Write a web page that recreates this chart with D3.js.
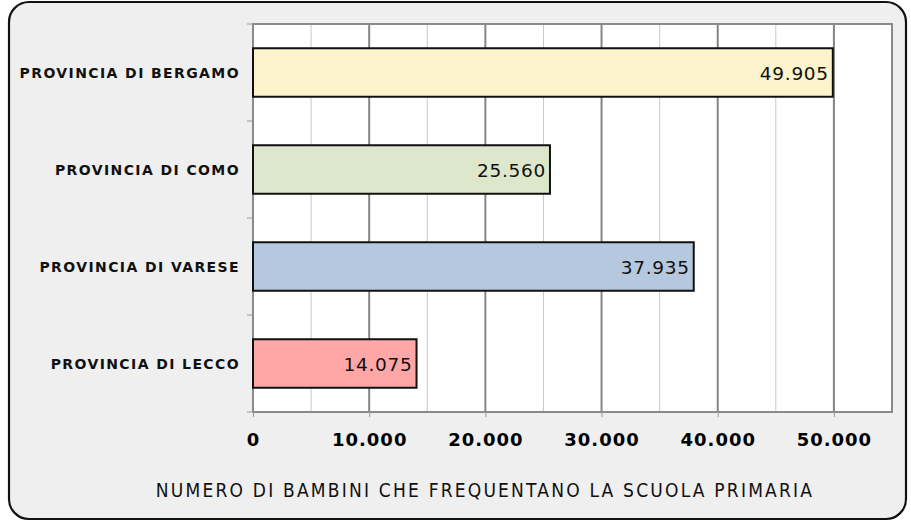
<!DOCTYPE html>
<html><head><meta charset="utf-8">
<script src="https://cdn.jsdelivr.net/npm/d3@7"></script>
<style>body{margin:0;background:#fff;}svg{display:block;}</style>
</head><body>
<svg id="c" width="911" height="526"></svg>
<script>
const categories = ["PROVINCIA DI BERGAMO","PROVINCIA DI COMO","PROVINCIA DI VARESE","PROVINCIA DI LECCO"];
const values = [49905, 25560, 37935, 14075];
const colors = ["#fdf3cc","#dde7cc","#b6c8de","#ffa6a6"];
const majorTicks = [0,10000,20000,30000,40000,50000];
const minorTicks = [5000,15000,25000,35000,45000];
const axisTitle = "NUMERO DI BAMBINI CHE FREQUENTANO LA SCUOLA PRIMARIA";

const fmt = d => d3.format(",")(d).replace(/,/g,".");
const svg = d3.select("#c");
const L=253,R=892,T=24,B=412;

svg.append("rect").attr("x",9).attr("y",2).attr("width",897).attr("height",517)
  .attr("rx",20).attr("fill","#efefef").attr("stroke","#111").attr("stroke-width",2.2);

const x = d3.scaleLinear().domain([0,55000]).range([L,R]);
const y = d3.scaleBand().domain(categories).range([T,B]).paddingInner(0.5).paddingOuter(0.25);

svg.append("rect").attr("x",L).attr("y",T).attr("width",R-L).attr("height",B-T).attr("fill","#fff");

svg.append("g").selectAll("line").data(minorTicks).join("line")
  .attr("x1",d=>x(d)).attr("x2",d=>x(d)).attr("y1",T).attr("y2",B)
  .attr("stroke","#c8c8c8").attr("stroke-width",1);
svg.append("g").selectAll("line").data(majorTicks.slice(1)).join("line")
  .attr("x1",d=>x(d)).attr("x2",d=>x(d)).attr("y1",T).attr("y2",B)
  .attr("stroke","#858585").attr("stroke-width",2);
svg.append("rect").attr("x",L).attr("y",T).attr("width",R-L).attr("height",B-T)
  .attr("fill","none").attr("stroke","#8a8a8a").attr("stroke-width",2);

// left ticks at band boundaries
const bounds = d3.range(categories.length+1).map(i=>T+i*(B-T)/categories.length);
svg.append("g").selectAll("line").data(bounds).join("line")
  .attr("x1",L-6).attr("x2",L).attr("y1",d=>d).attr("y2",d=>d)
  .attr("stroke","#999").attr("stroke-width",1);

// bottom axis
const xAxis = d3.axisBottom(x).tickValues(majorTicks).tickSize(5).tickFormat(fmt);
const gx = svg.append("g").attr("transform",`translate(0,${B})`).call(xAxis);
gx.select(".domain").remove();
gx.selectAll(".tick line").attr("stroke","#999");
gx.selectAll(".tick text").attr("dy",0).attr("y",34)
  .style("font-family","DejaVu Sans").style("font-weight","bold").style("font-size","18px")
  .style("letter-spacing","1px").attr("fill","#000");

// bars
svg.append("g").selectAll("rect").data(categories).join("rect")
  .attr("x",x(0)).attr("y",d=>y(d)).attr("width",(d,i)=>x(values[i])-x(0)).attr("height",y.bandwidth())
  .attr("fill",(d,i)=>colors[i]).attr("stroke","#111").attr("stroke-width",2);

// value labels
svg.append("g").selectAll("text").data(categories).join("text")
  .attr("x",(d,i)=>x(values[i])-4).attr("y",d=>y(d)+y.bandwidth()/2+7)
  .attr("text-anchor","end").text((d,i)=>fmt(values[i]))
  .style("font-family","DejaVu Sans").style("font-size","18.5px").style("letter-spacing","0.7px").attr("fill","#111");

// category labels
svg.append("g").selectAll("text").data(categories).join("text")
  .attr("x",240).attr("y",d=>y(d)+y.bandwidth()/2+5.5)
  .attr("text-anchor","end").text(d=>d)
  .style("font-family","DejaVu Sans").style("font-weight","bold").style("font-size","14px")
  .style("letter-spacing","1.4px").attr("fill","#111");

svg.append("text").attr("x",485).attr("y",497).attr("text-anchor","middle").text(axisTitle)
  .style("font-family","DejaVu Sans Condensed, DejaVu Sans").style("font-size","19px").style("letter-spacing","2.2px").attr("fill","#111");
</script>
</body></html>
